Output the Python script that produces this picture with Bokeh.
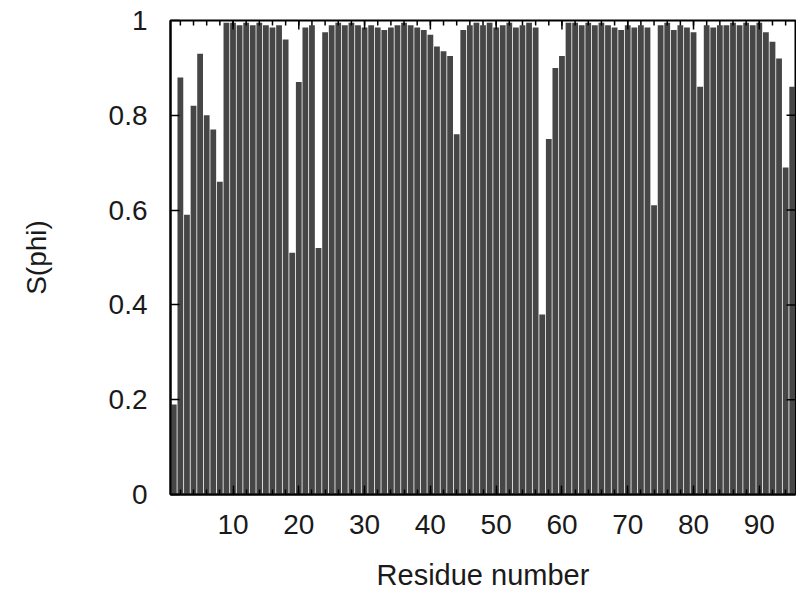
from bokeh.plotting import figure
from bokeh.models import FixedTicker, Range1d
from bokeh.embed import file_html
from bokeh.resources import INLINE

residues = list(range(1, 96))
s_phi = [
    0.19, 0.88, 0.59, 0.82, 0.93, 0.80, 0.77, 0.66, 0.995, 0.995,
    0.99, 0.995, 0.99, 0.995, 0.99, 0.985, 0.99, 0.96, 0.51, 0.87,
    0.985, 0.99, 0.52, 0.975, 0.99, 0.995, 0.99, 0.995, 0.99, 0.985,
    0.99, 0.985, 0.98, 0.985, 0.99, 0.995, 0.99, 0.985, 0.98, 0.97,
    0.945, 0.935, 0.925, 0.76, 0.98, 0.99, 0.995, 0.99, 0.995, 0.985,
    0.99, 0.995, 0.985, 0.99, 0.995, 0.985, 0.38, 0.75, 0.90, 0.925,
    0.995, 0.995, 0.99, 0.995, 0.99, 0.995, 0.99, 0.985, 0.98, 0.99,
    0.985, 0.99, 0.985, 0.61, 0.99, 0.995, 0.98, 0.99, 0.985, 0.975,
    0.86, 0.99, 0.985, 0.99, 0.99, 0.995, 0.99, 0.995, 0.99, 0.995,
    0.975, 0.955, 0.92, 0.69, 0.86,
]
x_ticks = [10, 20, 30, 40, 50, 60, 70, 80, 90]
x_minor = list(range(2, 96, 2))
y_ticks = [0, 0.2, 0.4, 0.6, 0.8, 1]
y_tick_labels = ["0", "0.2", "0.4", "0.6", "0.8", "1"]

FONT = "Liberation Sans"
TXT = "#1a1a1a"
FS = "28px"

W, H = 796, 600
BL, BR, BT, BB = 170, 1, 20, 106
XMIN, XMAX, YMIN, YMAX = 0.5, 95.5, 0.0, 1.0

p = figure(width=W, height=H,
           x_range=Range1d(XMIN, XMAX), y_range=Range1d(YMIN, YMAX),
           output_backend="svg", toolbar_location=None,
           min_border_left=BL, min_border_right=BR,
           min_border_top=BT, min_border_bottom=BB)

p.vbar(x=residues, top=s_phi, bottom=0, width=0.88,
       fill_color="#464646", line_color=None)

# mirror tick marks on the top and right frame edges
fw, fh = W - BL - BR, H - BT - BB
px_x = (XMAX - XMIN) / fw
px_y = (YMAX - YMIN) / fh
MAJ, MIN = 9, 5
p.segment(x0=x_ticks, x1=x_ticks, y0=[YMAX] * len(x_ticks),
          y1=[YMAX - MAJ * px_y] * len(x_ticks), line_color="black", line_width=1.5)
p.segment(x0=x_minor, x1=x_minor, y0=[YMAX] * len(x_minor),
          y1=[YMAX - MIN * px_y] * len(x_minor), line_color="black", line_width=1.5)
p.segment(x0=[XMAX] * len(y_ticks), x1=[XMAX - MAJ * px_x] * len(y_ticks),
          y0=y_ticks, y1=y_ticks, line_color="black", line_width=1.5)

p.xgrid.visible = False
p.ygrid.visible = False
p.outline_line_color = "black"
p.outline_line_width = 2
p.background_fill_color = "white"
p.border_fill_color = "white"

for ax in (p.xaxis[0], p.yaxis[0]):
    ax.axis_line_color = "black"
    ax.axis_line_width = 2
    ax.major_tick_in = MAJ
    ax.major_tick_out = 0
    ax.minor_tick_in = MIN
    ax.minor_tick_out = 0
    ax.major_tick_line_color = "black"
    ax.minor_tick_line_color = "black"
    ax.major_tick_line_width = 1.5
    ax.minor_tick_line_width = 1.5
    ax.major_label_text_font = FONT
    ax.major_label_text_color = TXT
    ax.major_label_text_font_size = FS
    ax.axis_label_text_font = FONT
    ax.axis_label_text_color = TXT
    ax.axis_label_text_font_size = FS
    ax.axis_label_text_font_style = "normal"

xa = p.xaxis[0]
xa.ticker = FixedTicker(ticks=x_ticks, minor_ticks=x_minor)
xa.major_label_standoff = 20
xa.axis_label = "Residue number"
xa.axis_label_text_font_size = "29px"
xa.axis_label_standoff = 22

ya = p.yaxis[0]
ya.ticker = FixedTicker(ticks=y_ticks, minor_ticks=[])
ya.major_label_overrides = {v: s for v, s in zip(y_ticks, y_tick_labels)}
ya.major_label_standoff = 23
ya.axis_label = "S(phi)"
ya.axis_label_standoff = 54

open("out.html", "w").write(file_html(p, INLINE))
